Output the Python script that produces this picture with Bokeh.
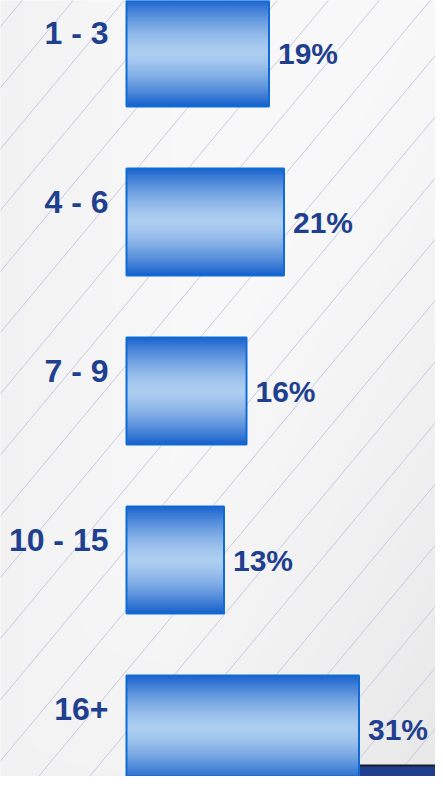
import numpy as np
from bokeh.plotting import figure
from bokeh.models import Range1d, ColumnDataSource
from bokeh.core.properties import value
from bokeh.embed import file_html
from bokeh.resources import INLINE

# ---- data ----
categories = ["1 - 3", "4 - 6", "7 - 9", "10 - 15", "16+"]
percent = [19, 21, 16, 13, 31]
value_labels = [f"{v}%" for v in percent]

# ---- layout (pixels) ----
W, H = 435, 776
PX_PER_PCT = 7.5
BAR_LEFT_PX = 126
ROW_PX = 169
FIRST_ROW_PX = 52.5
BAR_H = 0.634

x0 = -BAR_LEFT_PX / PX_PER_PCT
x1 = (W - BAR_LEFT_PX) / PX_PER_PCT
y_top = -FIRST_ROW_PX / ROW_PX
y_bot = (H - FIRST_ROW_PX) / ROW_PX


def px_x(u):
    return (u - BAR_LEFT_PX) / PX_PER_PCT


def px_y(v):
    return (v - FIRST_ROW_PX) / ROW_PX


p = figure(width=W, height=H, x_range=Range1d(x0, x1), y_range=Range1d(y_bot, y_top),
           output_backend="svg", toolbar_location=None, min_border=0)
p.axis.visible = False
p.grid.visible = False
p.outline_line_color = None
p.background_fill_color = "#f5f5f5"
p.border_fill_color = "#f5f5f5"

# ---- background gradient ----
nx, ny = 218, 388
uu, vv = np.meshgrid((np.arange(nx) + 0.5) / nx * W + 8, (np.arange(ny) + 0.5) / ny * H + 8)
g = 248.0 - 16.0 * np.clip(uu / 443 + vv / 792 - 1.0, 0, None) ** 1.2
g -= 6.0 * np.clip(1 - uu / 443 * 2.5, 0, None)
img = np.zeros((ny, nx, 4), dtype=np.uint8)
img[..., 0] = g
img[..., 1] = g
img[..., 2] = g
img[..., 3] = 255
p.image_rgba(image=[img.view(np.uint32).reshape(ny, nx)], x=x0, y=y_top, dw=x1 - x0, dh=y_bot - y_top)

# ---- diagonal decorative lines ----
xs0, ys0, xs1, ys1 = [], [], [], []
for k in range(-12, 13):
    a = 330 + 51 * k
    xs0.append(px_x(a + (242 + 10) / 1.2)); ys0.append(px_y(-10))
    xs1.append(px_x(a + (242 - 790) / 1.2)); ys1.append(px_y(790))
p.segment(x0=xs0, y0=ys0, x1=xs1, y1=ys1, line_color="#c8cbe4", line_width=1)

# ---- navy band bottom right ----
p.quad(left=px_x(235), right=x1, top=px_y(765), bottom=y_bot, fill_color="#1f3f8e", line_color=None)
p.segment(x0=[px_x(235)], y0=[px_y(765)], x1=[x1], y1=[px_y(765)], line_color="#1a1a2a", line_width=2)

# ---- gradient bars (overlapping strips, no seams) ----
N = 60
dark = np.array([22, 96, 204])
light = np.array([172, 205, 240])
ys, rights, cols = [], [], []
for i, v in enumerate(percent):
    for j in range(N):
        t = (j + 0.5) / N
        d = abs(2 * t - 1)
        f = 1 - d ** 1.5
        c = dark + (light - dark) * f
        cols.append("#%02x%02x%02x" % tuple(int(round(x)) for x in c))
        ys.append(i - BAR_H / 2 + t * BAR_H)
        rights.append(v)
strips = ColumnDataSource(dict(y=ys, right=rights, color=cols))
p.hbar(y="y", left=0, right="right", height=BAR_H / N * 1.6, fill_color="color", line_color=None,
       source=strips)

idx = list(range(len(categories)))
p.hbar(y=idx, left=0, right=percent, height=BAR_H, fill_color=None, line_color="#0f6bd8", line_width=2)

# ---- labels ----
src = ColumnDataSource(dict(y=idx, ycat=[i - 20.5 / ROW_PX for i in idx], cat=categories,
                            xv=[v + 9 / PX_PER_PCT for v in percent], lab=value_labels))
p.text(x=px_x(108), y="ycat", text="cat", source=src, text_align="right", text_baseline="middle",
       text_font=value("Liberation Sans"), text_font_style="bold", text_font_size="32px",
       text_color="#1f3f8f")
p.text(x="xv", y="y", text="lab", source=src, text_align="left", text_baseline="middle",
       text_font=value("Liberation Sans"), text_font_style="bold", text_font_size="30px",
       text_color="#1f3f8f")

open("out.html", "w").write(file_html(p, INLINE))
